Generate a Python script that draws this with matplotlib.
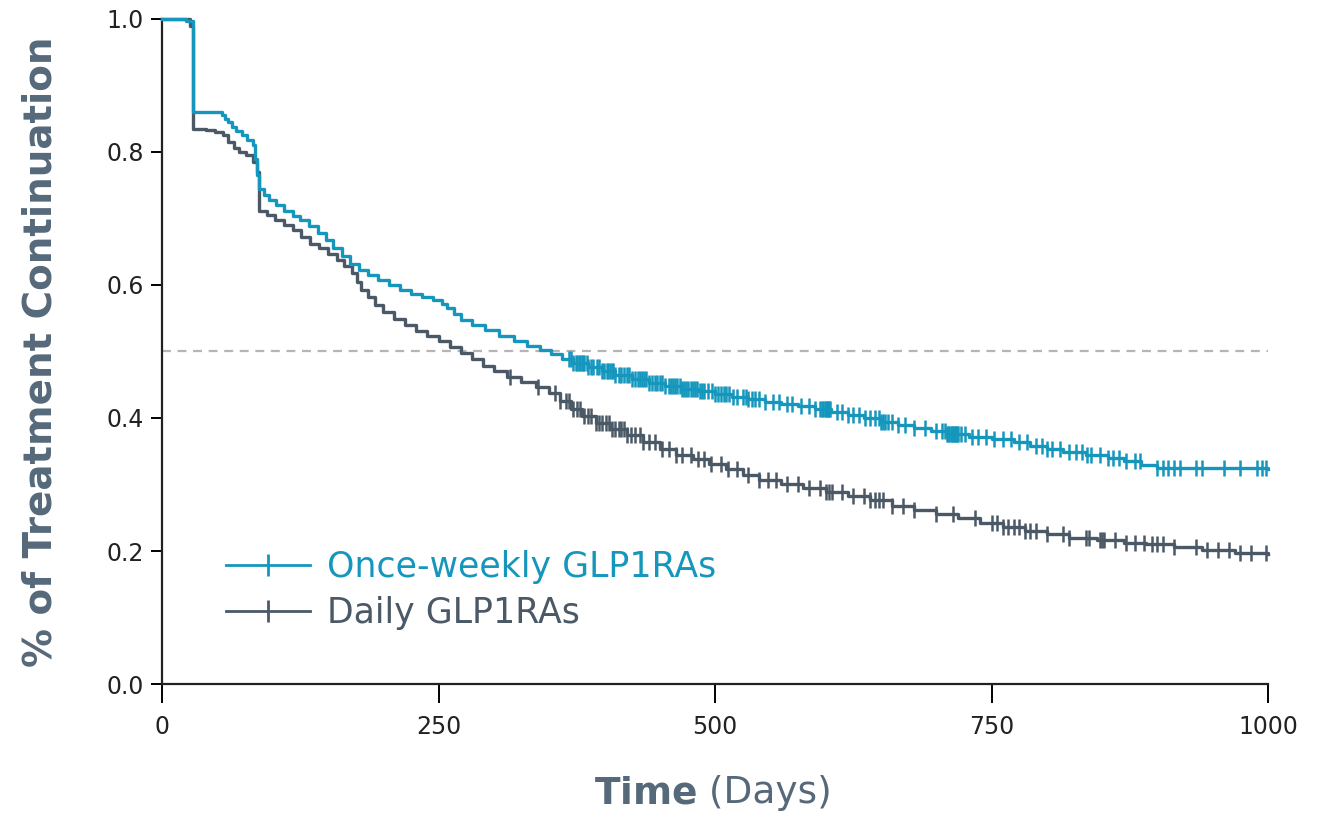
import numpy as np
import matplotlib
matplotlib.use("Agg")
import matplotlib.pyplot as plt
from matplotlib.lines import Line2D

# ── Data (Kaplan-Meier step curves) ─────────────────────────────────────────
weekly_t = [0, 22, 28, 54, 57, 60, 63, 67, 72, 77, 82, 84, 86, 88, 92, 97, 103,
            110, 118, 125, 133, 141, 148, 155, 163, 170, 178, 186, 195, 205,
            215, 225, 235, 245, 253, 258, 264, 270, 280, 292, 305, 318, 330,
            342, 352, 362, 372, 385, 398, 410, 425, 440, 455, 470, 485, 500,
            515, 530, 545, 560, 575, 590, 605, 620, 635, 650, 665, 680, 695,
            710, 730, 750, 770, 785, 800, 815, 835, 855, 870, 885, 900, 1000]
weekly_s = [1.0, 0.997, 0.86, 0.855, 0.85, 0.845, 0.838, 0.832, 0.826, 0.818,
            0.81, 0.79, 0.765, 0.745, 0.735, 0.728, 0.72, 0.712, 0.704, 0.697,
            0.688, 0.678, 0.668, 0.656, 0.643, 0.632, 0.623, 0.615, 0.607,
            0.600, 0.593, 0.587, 0.582, 0.577, 0.571, 0.565, 0.556, 0.548,
            0.540, 0.532, 0.524, 0.516, 0.509, 0.502, 0.496, 0.488, 0.482,
            0.477, 0.470, 0.464, 0.458, 0.453, 0.448, 0.444, 0.440, 0.436,
            0.432, 0.428, 0.424, 0.421, 0.418, 0.414, 0.409, 0.405, 0.400,
            0.394, 0.389, 0.385, 0.380, 0.376, 0.372, 0.368, 0.364, 0.358,
            0.353, 0.349, 0.345, 0.340, 0.335, 0.330, 0.325, 0.323]
weekly_cens = [368, 370, 372, 374, 375, 377, 378, 380, 381, 382, 384, 385, 388,
               390, 393, 395, 398, 400, 402, 403, 405, 407, 408, 410, 413, 415,
               418, 420, 422, 425, 428, 430, 432, 434, 436, 438, 440, 443, 446,
               448, 450, 452, 455, 458, 460, 462, 464, 466, 468, 470, 472, 474,
               476, 478, 480, 482, 484, 486, 488, 490, 494, 497, 500, 503, 505,
               508, 510, 513, 516, 520, 525, 528, 530, 533, 536, 540, 545, 552,
               558, 565, 570, 578, 585, 590, 595, 597, 598, 599, 600, 601, 602,
               603, 604, 610, 615, 620, 625, 630, 636, 640, 645, 648, 650, 652,
               654, 656, 660, 665, 672, 680, 690, 700, 705, 708, 710, 711, 712,
               713, 714, 715, 716, 717, 718, 719, 720, 722, 726, 732, 738, 745,
               752, 760, 768, 775, 782, 790, 796, 800, 805, 812, 820, 826, 832,
               836, 840, 848, 855, 860, 865, 872, 880, 884, 900, 905, 910, 915,
               920, 935, 940, 960, 975, 990, 995, 998]

daily_t = [0, 25, 28, 40, 48, 55, 60, 65, 70, 76, 82, 86, 88, 95, 102, 110, 118,
           126, 134, 142, 150, 158, 165, 172, 176, 180, 186, 193, 200, 210, 220,
           230, 240, 250, 260, 270, 280, 290, 300, 312, 325, 338, 350, 360, 370,
           380, 392, 405, 420, 435, 450, 465, 480, 495, 510, 525, 540, 560, 580,
           600, 620, 640, 660, 680, 700, 720, 740, 760, 780, 800, 820, 845, 870,
           890, 915, 940, 970, 1000]
daily_s = [1.0, 0.99, 0.835, 0.833, 0.83, 0.826, 0.815, 0.806, 0.800, 0.795,
           0.785, 0.77, 0.712, 0.705, 0.697, 0.690, 0.682, 0.672, 0.662, 0.655,
           0.647, 0.638, 0.628, 0.618, 0.605, 0.592, 0.582, 0.570, 0.560, 0.549,
           0.540, 0.531, 0.524, 0.516, 0.507, 0.497, 0.488, 0.478, 0.470, 0.462,
           0.454, 0.446, 0.437, 0.425, 0.413, 0.403, 0.393, 0.384, 0.375, 0.364,
           0.353, 0.345, 0.338, 0.331, 0.324, 0.315, 0.307, 0.301, 0.295, 0.289,
           0.283, 0.276, 0.268, 0.262, 0.256, 0.250, 0.242, 0.236, 0.230, 0.225,
           0.220, 0.216, 0.212, 0.210, 0.206, 0.201, 0.197, 0.196]
daily_cens = [315, 340, 355, 360, 365, 368, 372, 375, 378, 382, 385, 388, 392,
              395, 398, 401, 404, 407, 410, 413, 415, 418, 420, 424, 428, 432,
              435, 440, 446, 452, 458, 465, 470, 478, 485, 490, 496, 505, 512,
              520, 530, 540, 548, 555, 565, 575, 585, 595, 600, 603, 606, 615,
              625, 635, 640, 645, 648, 652, 660, 670, 680, 700, 715, 735, 750,
              755, 760, 765, 770, 775, 780, 785, 790, 800, 815, 820, 835, 838,
              848, 850, 852, 862, 872, 880, 888, 895, 900, 905, 915, 935, 945,
              955, 965, 975, 985, 998]

x_ticks = [0, 250, 500, 750, 1000]
y_ticks = [0.0, 0.2, 0.4, 0.6, 0.8, 1.0]

TEAL = "#1597bd"
SLATE = "#4b5866"
LABEL = "#56697a"


def step_value(times, surv, at):
    """Value of the step curve (post) at the given times."""
    idx = np.searchsorted(times, at, side="right") - 1
    return np.asarray(surv)[idx]


fig = plt.figure(figsize=(13.3, 8.18), dpi=100)
ax = fig.add_axes([0.1218, 0.1638, 0.8316, 0.8130])

ax.axhline(0.5, color="#b5b5b5", lw=1.6, ls=(0, (4, 3)), zorder=1)

for t, s, cens, col in [(daily_t, daily_s, daily_cens, SLATE),
                        (weekly_t, weekly_s, weekly_cens, TEAL)]:
    ax.step(t, s, where="post", color=col, lw=2.4, clip_on=False, zorder=3)
    ax.plot(cens, step_value(t, s, cens), ls="none", marker="|",
            ms=12, mew=1.8, color=col, zorder=3)

ax.set_xlim(0, 1000)
ax.set_ylim(0, 1.0)
ax.set_xticks(x_ticks)
ax.set_yticks(y_ticks)
ax.set_yticklabels([f"{v:.1f}" for v in y_ticks])
for side in ("top", "right"):
    ax.spines[side].set_visible(False)
for side in ("left", "bottom"):
    ax.spines[side].set_linewidth(1.6)
    ax.spines[side].set_color("#222222")
ax.tick_params(axis="x", length=14, width=1.4, pad=8, labelsize=17,
               labelcolor="#222222")
ax.tick_params(axis="y", length=8, width=1.4, pad=5, labelsize=17,
               labelcolor="#222222")

ax.set_ylabel("% of Treatment Continuation", fontsize=28, fontweight="bold",
              color=LABEL, labelpad=34)
fig.text(0.524, 0.008, r"$\bf{Time}$", fontsize=27, color=LABEL,
         ha="right", va="bottom")
fig.text(0.524, 0.008, " (Days)", fontsize=27, color=LABEL,
         ha="left", va="bottom")

handles = [Line2D([0], [0], color=TEAL, lw=2, marker="|", ms=16, mew=2),
           Line2D([0], [0], color=SLATE, lw=2, marker="|", ms=16, mew=2)]
leg = ax.legend(handles, ["Once-weekly GLP1RAs", "Daily GLP1RAs"],
                loc="lower left", bbox_to_anchor=(0.03, 0.034), frameon=False,
                fontsize=25, handlelength=2.4, handletextpad=0.5,
                labelspacing=0.35)
for txt, col in zip(leg.get_texts(), [TEAL, SLATE]):
    txt.set_color(col)

fig.savefig("out.png", dpi=100)
